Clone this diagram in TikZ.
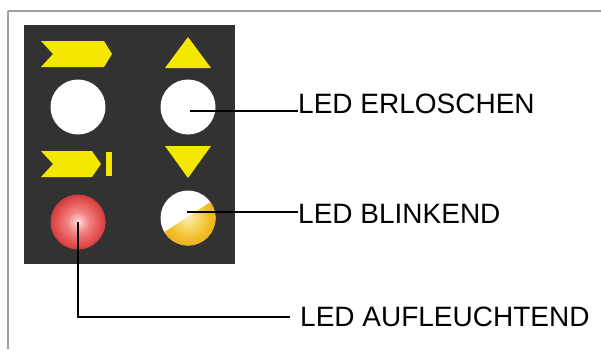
\documentclass[tikz,border=0pt]{standalone}
\usepackage{fontspec}
\setmainfont{Liberation Sans}
\definecolor{frame}{HTML}{A0A0A0}
\definecolor{panel}{HTML}{323232}
\definecolor{sym}{HTML}{F5E800}
\pgfdeclareradialshading{redled}{\pgfpoint{0bp}{0bp}}{%
  color(0bp)=(white); color(3bp)=(white!75!red); color(10bp)=(rgb,255:red,240;green,130;blue,130);
  color(17bp)=(rgb,255:red,232;green,95;blue,95); color(22bp)=(rgb,255:red,222;green,72;blue,72);
  color(25bp)=(rgb,255:red,208;green,62;blue,62); color(50bp)=(rgb,255:red,208;green,62;blue,62)}
\pgfdeclareradialshading{yelled}{\pgfpoint{0bp}{0bp}}{%
  color(0bp)=(rgb,255:red,252;green,238;blue,180); color(8bp)=(rgb,255:red,248;green,218;blue,110);
  color(18bp)=(rgb,255:red,242;green,192;blue,45); color(25bp)=(rgb,255:red,236;green,178;blue,28);
  color(50bp)=(rgb,255:red,236;green,178;blue,28)}
\begin{document}
\begin{tikzpicture}[x=1pt,y=-1pt,
  frameline/.style={draw=frame,line width=2pt},
  symbol/.style={fill=sym},
  led/.style={circle,inner sep=0pt,minimum size=55pt},
  lbl/.style={anchor=base west,inner sep=0pt,font=\fontsize{28}{30}\selectfont},
  wire/.style={draw=black,line width=1.8pt}]
\useasboundingbox (0,0) rectangle (601,349);
\draw[frameline] (8,11) -- (601,11);
\draw[frameline] (8,11) -- (8,349);
\fill[panel] (24,25) rectangle (235,264);
% symbols
\fill[symbol] (41,41) -- (104,41) -- (112,54) -- (104,67) -- (41,67) -- (53,54) -- cycle;
\fill[symbol] (165,68) -- (211,68) -- (188,37) -- cycle;
\fill[symbol] (41,151) -- (92,151) -- (101,164) -- (92,177) -- (41,177) -- (53,164) -- cycle;
\fill[symbol] (106,152) rectangle (112,176);
\fill[symbol] (165,146) -- (211,146) -- (188,178) -- cycle;
% LEDs
\node[led,fill=white] (offL) at (78,107) {};
\node[led,fill=white] (offR) at (188,107) {};
\node[led,shade,shading=redled] (red) at (78,222) {};
\node[led,fill=white] (blink) at (188,218) {};
\begin{scope}
  \clip (189,216) -- ++(33.6,-21.8) -- ++(21.8,33.6) -- ++(-67.2,43.6) -- ++(-21.8,-33.6) -- cycle;
  \shade[shading=yelled] (blink.center) circle[radius=27.5pt];
\end{scope}
% labels
\node[lbl] (l1) at (298,113) {LED ERLOSCHEN};
\node[lbl] (l2) at (298,223) {LED BLINKEND};
\node[lbl] (l3) at (300,326) {LED AUFLEUCHTEND};
% wires
\coordinate (w1) at (190,111);
\coordinate (w2) at (187,212);
\coordinate (w3) at (78,317);
\draw[wire] (w1) -- (w1 -| l1.west);
\draw[wire] (w2) -- (w2 -| l2.west);
\draw[wire] (red.center) -- (w3) -- ([xshift=-10pt]w3 -| l3.west);
\end{tikzpicture}
\end{document}
